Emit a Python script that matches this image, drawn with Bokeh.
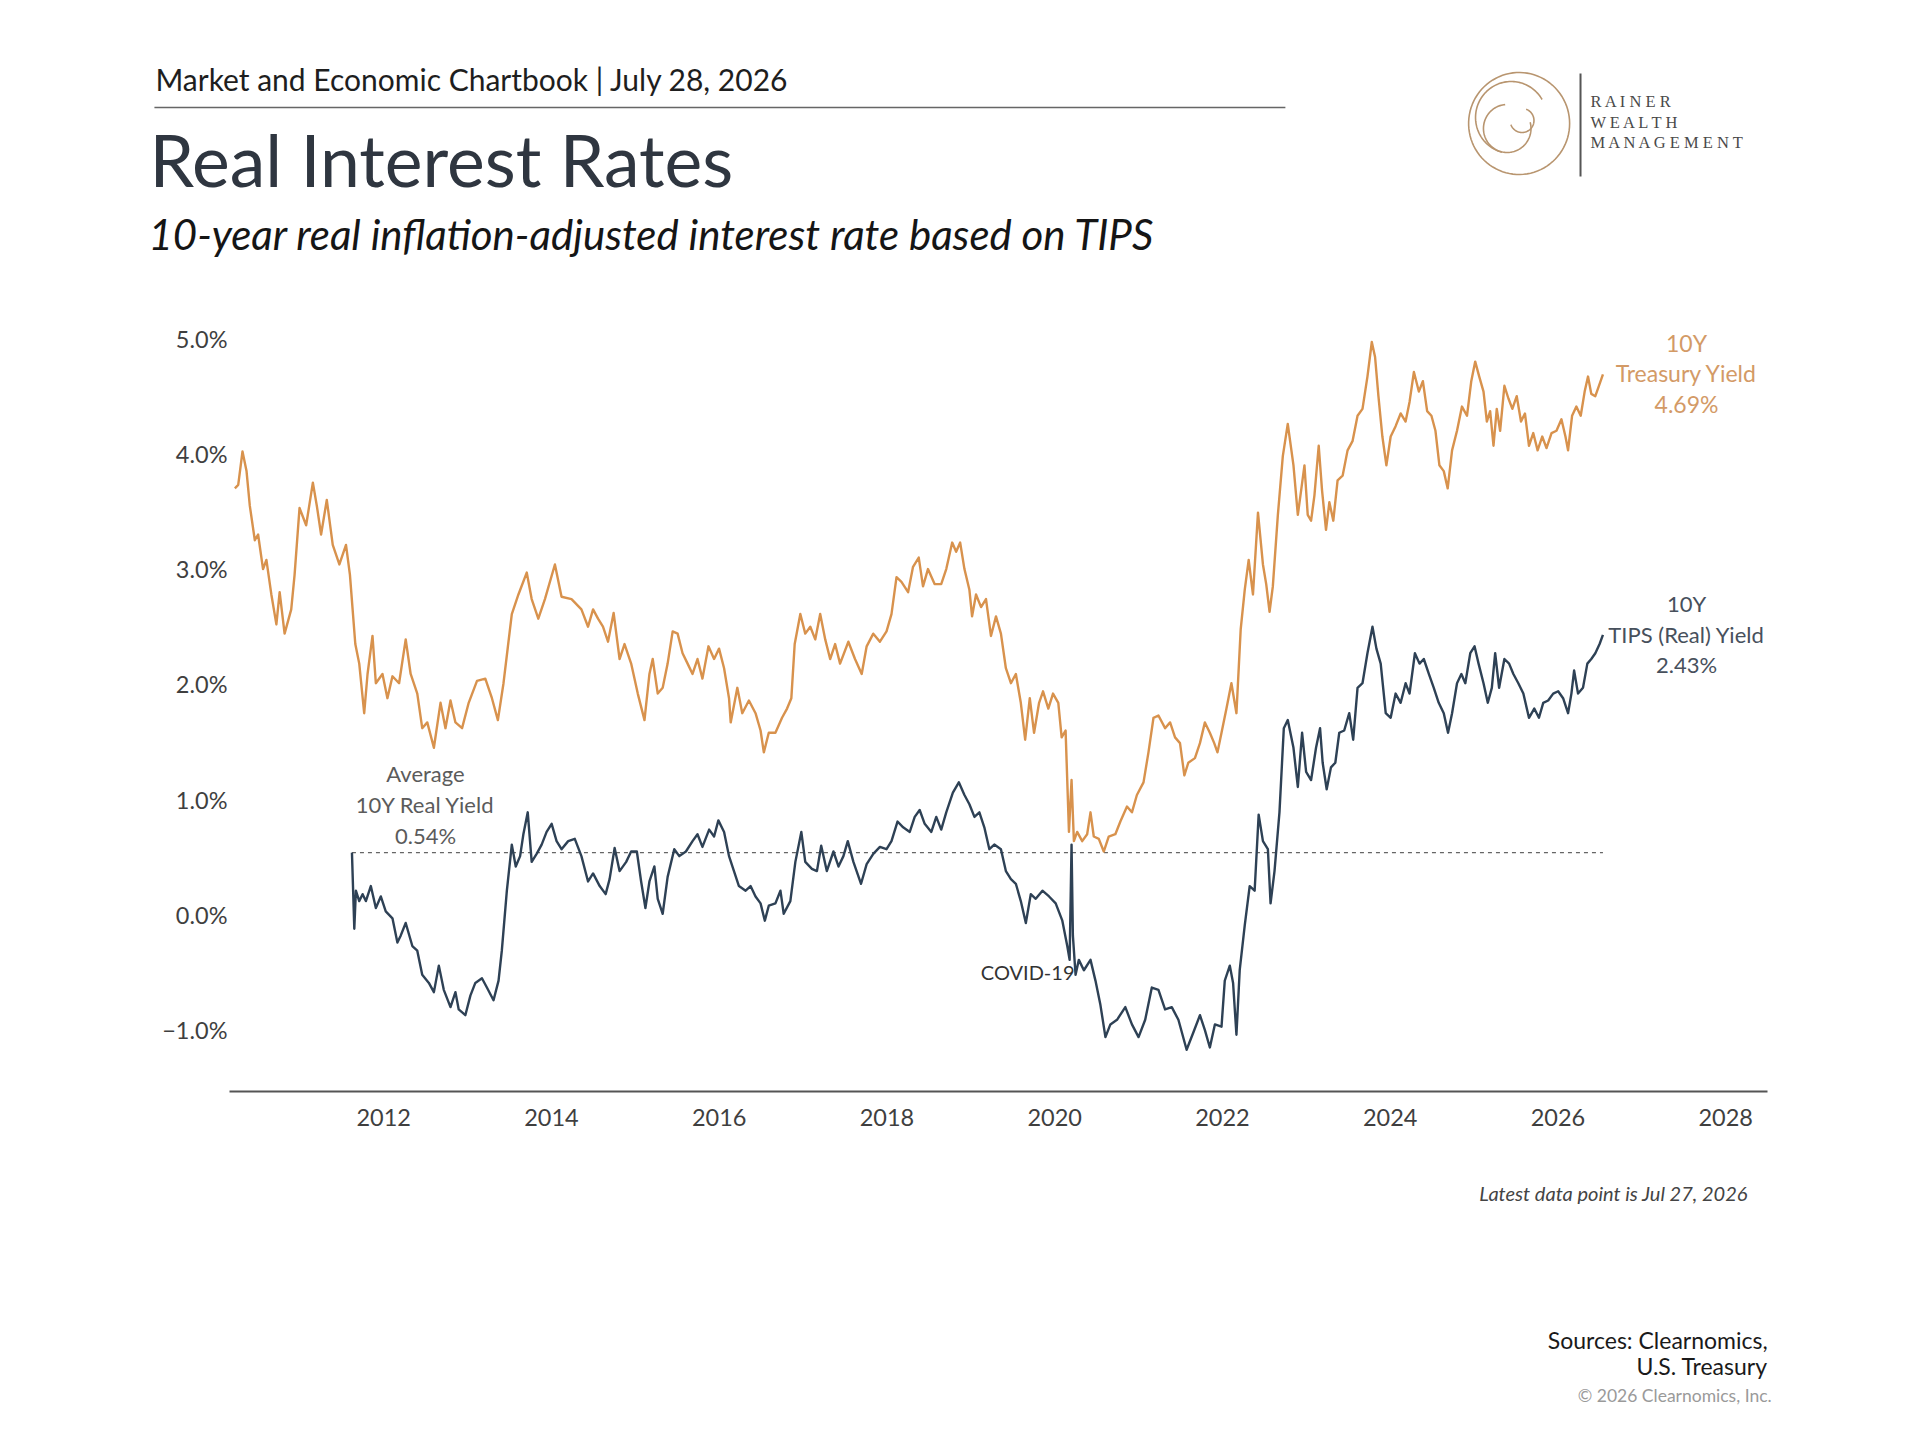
import numpy as np
from bokeh.plotting import figure
from bokeh.models import Range1d, FixedTicker, Label
from bokeh.core.properties import value
from bokeh.embed import file_html
from bokeh.resources import INLINE

# 10Y Treasury yield (%), decimal years
tsy_years = [
    2010.225, 2010.265, 2010.316, 2010.364, 2010.403, 2010.463, 2010.502, 2010.561, 2010.601, 2010.660,
    2010.720, 2010.759, 2010.818, 2010.897, 2010.937, 2010.996, 2011.075, 2011.155, 2011.202, 2011.253,
    2011.321, 2011.392, 2011.471, 2011.550, 2011.597, 2011.661, 2011.708, 2011.767, 2011.807, 2011.866,
    2011.906, 2011.985, 2012.044, 2012.104, 2012.183, 2012.262, 2012.321, 2012.400, 2012.459, 2012.519,
    2012.598, 2012.677, 2012.736, 2012.796, 2012.855, 2012.934, 2013.013, 2013.112, 2013.211, 2013.290,
    2013.361, 2013.428, 2013.527, 2013.606, 2013.705, 2013.764, 2013.843, 2013.922, 2014.041, 2014.120,
    2014.239, 2014.357, 2014.436, 2014.496, 2014.555, 2014.614, 2014.674, 2014.741, 2014.812, 2014.871,
    2014.950, 2015.029, 2015.109, 2015.168, 2015.207, 2015.267, 2015.326, 2015.385, 2015.445, 2015.504,
    2015.563, 2015.623, 2015.682, 2015.741, 2015.800, 2015.872, 2015.939, 2015.998, 2016.058, 2016.117,
    2016.137, 2016.216, 2016.275, 2016.354, 2016.433, 2016.493, 2016.532, 2016.591, 2016.670, 2016.749,
    2016.809, 2016.860, 2016.900, 2016.967, 2017.026, 2017.086, 2017.145, 2017.204, 2017.264, 2017.323,
    2017.382, 2017.441, 2017.540, 2017.619, 2017.699, 2017.758, 2017.837, 2017.916, 2017.995, 2018.054,
    2018.114, 2018.173, 2018.252, 2018.311, 2018.379, 2018.430, 2018.489, 2018.568, 2018.647, 2018.707,
    2018.778, 2018.825, 2018.873, 2018.924, 2018.983, 2019.015, 2019.062, 2019.122, 2019.181, 2019.240,
    2019.300, 2019.359, 2019.418, 2019.478, 2019.537, 2019.596, 2019.648, 2019.703, 2019.754, 2019.814,
    2019.861, 2019.924, 2019.980, 2020.043, 2020.083, 2020.130, 2020.170, 2020.201, 2020.229, 2020.268,
    2020.328, 2020.387, 2020.427, 2020.466, 2020.526, 2020.585, 2020.644, 2020.723, 2020.783, 2020.862,
    2020.921, 2020.980, 2021.059, 2021.118, 2021.178, 2021.237, 2021.316, 2021.376, 2021.435, 2021.494,
    2021.546, 2021.593, 2021.672, 2021.732, 2021.791, 2021.850, 2021.902, 2021.941, 2021.989, 2022.048,
    2022.107, 2022.167, 2022.218, 2022.266, 2022.313, 2022.364, 2022.424, 2022.483, 2022.522, 2022.562,
    2022.601, 2022.661, 2022.720, 2022.779, 2022.847, 2022.899, 2022.938, 2022.978, 2023.017, 2023.057,
    2023.097, 2023.148, 2023.188, 2023.235, 2023.275, 2023.322, 2023.373, 2023.433, 2023.492, 2023.551,
    2023.611, 2023.670, 2023.729, 2023.781, 2023.820, 2023.860, 2023.907, 2023.955, 2024.006, 2024.065,
    2024.125, 2024.184, 2024.231, 2024.283, 2024.342, 2024.390, 2024.441, 2024.492, 2024.540, 2024.587,
    2024.639, 2024.686, 2024.738, 2024.797, 2024.856, 2024.916, 2024.967, 2025.014, 2025.062, 2025.113,
    2025.153, 2025.192, 2025.232, 2025.271, 2025.311, 2025.362, 2025.410, 2025.457, 2025.509, 2025.560,
    2025.607, 2025.655, 2025.706, 2025.758, 2025.813, 2025.864, 2025.924, 2025.983, 2026.042, 2026.090,
    2026.121, 2026.169, 2026.220, 2026.272, 2026.319, 2026.359, 2026.398, 2026.446, 2026.485, 2026.537,
]
tsy_vals = [
    3.70, 3.73, 4.02, 3.85, 3.55, 3.25, 3.30, 3.00, 3.08, 2.78,
    2.52, 2.80, 2.44, 2.65, 2.95, 3.53, 3.38, 3.75, 3.55, 3.30,
    3.60, 3.21, 3.04, 3.21, 2.95, 2.35, 2.18, 1.75, 2.09, 2.42,
    2.01, 2.09, 1.88, 2.07, 2.01, 2.39, 2.09, 1.92, 1.62, 1.67,
    1.45, 1.84, 1.62, 1.86, 1.67, 1.62, 1.84, 2.03, 2.05, 1.88,
    1.69, 2.01, 2.61, 2.78, 2.97, 2.74, 2.57, 2.74, 3.04, 2.76,
    2.74, 2.65, 2.50, 2.65, 2.57, 2.50, 2.37, 2.62, 2.22, 2.35,
    2.18, 1.92, 1.69, 2.09, 2.22, 1.92, 1.97, 2.18, 2.46, 2.44,
    2.27, 2.18, 2.09, 2.22, 2.05, 2.33, 2.22, 2.31, 2.14, 1.88,
    1.67, 1.97, 1.75, 1.86, 1.75, 1.60, 1.41, 1.58, 1.58, 1.71,
    1.79, 1.88, 2.35, 2.61, 2.44, 2.50, 2.39, 2.61, 2.39, 2.22,
    2.35, 2.18, 2.37, 2.22, 2.09, 2.33, 2.44, 2.37, 2.46, 2.61,
    2.93, 2.89, 2.80, 3.02, 3.10, 2.85, 3.00, 2.87, 2.87, 3.00,
    3.23, 3.15, 3.23, 3.00, 2.82, 2.59, 2.78, 2.67, 2.74, 2.42,
    2.59, 2.44, 2.14, 2.01, 2.09, 1.84, 1.52, 1.88, 1.58, 1.84,
    1.94, 1.79, 1.92, 1.84, 1.54, 1.60, 0.72, 1.17, 0.64, 0.72,
    0.64, 0.70, 0.89, 0.68, 0.66, 0.55, 0.68, 0.70, 0.81, 0.94,
    0.89, 1.04, 1.15, 1.41, 1.71, 1.73, 1.62, 1.67, 1.54, 1.49,
    1.21, 1.32, 1.36, 1.49, 1.67, 1.58, 1.49, 1.41, 1.58, 1.79,
    2.01, 1.75, 2.48, 2.82, 3.08, 2.78, 3.49, 3.04, 2.87, 2.63,
    2.85, 3.47, 3.98, 4.26, 3.90, 3.47, 3.68, 3.90, 3.47, 3.42,
    3.64, 4.07, 3.68, 3.34, 3.58, 3.42, 3.77, 3.81, 4.03, 4.11,
    4.33, 4.39, 4.67, 4.97, 4.84, 4.50, 4.15, 3.90, 4.15, 4.24,
    4.35, 4.28, 4.45, 4.71, 4.54, 4.63, 4.37, 4.33, 4.20, 3.90,
    3.85, 3.70, 4.03, 4.20, 4.41, 4.33, 4.63, 4.80, 4.67, 4.54,
    4.28, 4.37, 4.07, 4.39, 4.20, 4.59, 4.48, 4.39, 4.50, 4.28,
    4.35, 4.07, 4.18, 4.03, 4.15, 4.05, 4.18, 4.20, 4.30, 4.15,
    4.03, 4.33, 4.41, 4.33, 4.54, 4.67, 4.52, 4.50, 4.58, 4.69,
]

# 10Y TIPS (real) yield (%)
tips_years = [
    2011.621, 2011.649, 2011.668, 2011.708, 2011.748, 2011.787, 2011.846, 2011.906, 2011.965, 2012.024,
    2012.104, 2012.163, 2012.202, 2012.262, 2012.341, 2012.400, 2012.459, 2012.538, 2012.598, 2012.657,
    2012.716, 2012.796, 2012.855, 2012.894, 2012.973, 2013.033, 2013.092, 2013.171, 2013.230, 2013.309,
    2013.369, 2013.408, 2013.468, 2013.527, 2013.574, 2013.626, 2013.665, 2013.717, 2013.764, 2013.823,
    2013.883, 2013.942, 2014.002, 2014.061, 2014.120, 2014.199, 2014.278, 2014.357, 2014.436, 2014.496,
    2014.575, 2014.646, 2014.693, 2014.753, 2014.812, 2014.891, 2014.950, 2015.018, 2015.069, 2015.120,
    2015.168, 2015.227, 2015.267, 2015.326, 2015.385, 2015.464, 2015.524, 2015.603, 2015.682, 2015.741,
    2015.800, 2015.880, 2015.939, 2015.990, 2016.058, 2016.117, 2016.176, 2016.235, 2016.315, 2016.374,
    2016.433, 2016.493, 2016.544, 2016.591, 2016.670, 2016.730, 2016.769, 2016.848, 2016.908, 2016.979,
    2017.026, 2017.105, 2017.165, 2017.216, 2017.283, 2017.362, 2017.422, 2017.481, 2017.533, 2017.600,
    2017.691, 2017.758, 2017.837, 2017.916, 2017.995, 2018.054, 2018.126, 2018.193, 2018.272, 2018.331,
    2018.390, 2018.450, 2018.529, 2018.588, 2018.647, 2018.707, 2018.786, 2018.857, 2018.924, 2018.983,
    2019.043, 2019.102, 2019.161, 2019.221, 2019.280, 2019.359, 2019.418, 2019.478, 2019.537, 2019.596,
    2019.656, 2019.715, 2019.774, 2019.854, 2019.933, 2020.012, 2020.091, 2020.150, 2020.178, 2020.201,
    2020.217, 2020.249, 2020.288, 2020.348, 2020.427, 2020.486, 2020.545, 2020.605, 2020.664, 2020.743,
    2020.842, 2020.921, 2021.000, 2021.079, 2021.158, 2021.237, 2021.316, 2021.396, 2021.475, 2021.573,
    2021.653, 2021.732, 2021.791, 2021.850, 2021.910, 2021.989, 2022.028, 2022.088, 2022.127, 2022.167,
    2022.206, 2022.266, 2022.325, 2022.384, 2022.432, 2022.483, 2022.542, 2022.574, 2022.621, 2022.680,
    2022.732, 2022.779, 2022.847, 2022.899, 2022.950, 2022.998, 2023.057, 2023.116, 2023.164, 2023.195,
    2023.243, 2023.294, 2023.346, 2023.393, 2023.452, 2023.512, 2023.559, 2023.611, 2023.670, 2023.729,
    2023.789, 2023.836, 2023.887, 2023.947, 2024.006, 2024.065, 2024.125, 2024.184, 2024.231, 2024.295,
    2024.350, 2024.401, 2024.461, 2024.520, 2024.579, 2024.639, 2024.690, 2024.738, 2024.797, 2024.849,
    2024.896, 2024.955, 2025.006, 2025.054, 2025.113, 2025.164, 2025.212, 2025.252, 2025.299, 2025.362,
    2025.418, 2025.469, 2025.528, 2025.588, 2025.655, 2025.718, 2025.774, 2025.825, 2025.884, 2025.944,
    2026.003, 2026.062, 2026.121, 2026.161, 2026.193, 2026.240, 2026.299, 2026.351, 2026.398, 2026.446,
    2026.497, 2026.537,
]
tips_vals = [
    0.54, -0.12, 0.21, 0.12, 0.18, 0.12, 0.25, 0.06, 0.16, 0.03,
    -0.03, -0.24, -0.18, -0.07, -0.27, -0.31, -0.52, -0.59, -0.67, -0.44,
    -0.65, -0.80, -0.67, -0.82, -0.87, -0.70, -0.59, -0.55, -0.63, -0.74,
    -0.57, -0.31, 0.21, 0.61, 0.42, 0.51, 0.70, 0.89, 0.46, 0.53,
    0.61, 0.72, 0.79, 0.64, 0.57, 0.64, 0.66, 0.51, 0.29, 0.36,
    0.25, 0.18, 0.31, 0.58, 0.38, 0.46, 0.55, 0.55, 0.29, 0.06,
    0.29, 0.42, 0.14, 0.01, 0.33, 0.57, 0.51, 0.55, 0.64, 0.70,
    0.59, 0.74, 0.68, 0.82, 0.72, 0.51, 0.38, 0.25, 0.21, 0.25,
    0.16, 0.10, -0.05, 0.08, 0.10, 0.21, 0.01, 0.12, 0.46, 0.72,
    0.46, 0.40, 0.38, 0.60, 0.38, 0.55, 0.42, 0.51, 0.64, 0.46,
    0.27, 0.44, 0.53, 0.59, 0.57, 0.64, 0.81, 0.76, 0.72, 0.85,
    0.91, 0.79, 0.72, 0.85, 0.74, 0.89, 1.06, 1.15, 1.04, 0.96,
    0.85, 0.89, 0.76, 0.57, 0.61, 0.57, 0.38, 0.31, 0.27, 0.12,
    -0.07, 0.18, 0.14, 0.21, 0.16, 0.10, -0.05, -0.27, -0.39, 0.61,
    -0.18, -0.52, -0.39, -0.48, -0.39, -0.57, -0.78, -1.06, -0.95, -0.91,
    -0.80, -0.95, -1.06, -0.91, -0.63, -0.65, -0.82, -0.80, -0.91, -1.17,
    -1.02, -0.87, -1.00, -1.15, -0.95, -0.97, -0.57, -0.44, -0.59, -1.04,
    -0.48, -0.09, 0.25, 0.21, 0.87, 0.64, 0.57, 0.10, 0.38, 0.89,
    1.62, 1.69, 1.45, 1.11, 1.58, 1.24, 1.17, 1.45, 1.62, 1.32,
    1.09, 1.28, 1.32, 1.58, 1.60, 1.75, 1.52, 1.97, 2.01, 2.27,
    2.50, 2.31, 2.18, 1.75, 1.71, 1.92, 1.84, 2.01, 1.92, 2.27,
    2.18, 2.22, 2.09, 1.97, 1.84, 1.75, 1.58, 1.75, 2.01, 2.09,
    2.01, 2.27, 2.33, 2.18, 2.01, 1.84, 1.97, 2.27, 1.97, 2.22,
    2.18, 2.09, 2.01, 1.92, 1.71, 1.79, 1.71, 1.84, 1.86, 1.92,
    1.94, 1.88, 1.75, 1.92, 2.12, 1.92, 1.97, 2.18, 2.22, 2.27,
    2.35, 2.43,
]

avg_real = 0.54
x_ticks = [2012, 2014, 2016, 2018, 2020, 2022, 2024, 2026, 2028]
y_ticks = [-1, 0, 1, 2, 3, 4, 5]

FONT = "Lato"
ORANGE = "#d8924d"
NAVY = "#2e4155"
GOLD = "#b8956f"
W = 1904

# page layout (px from the window's top-left): header / chart / footer strips
HEAD_TOP, CHART_TOP, FOOT_TOP, PAGE_BOT = 8, 320, 1160, 1432
FRAME_L, FRAME_R, FRAME_B = 237, 1775, 1099


def hx(P):
    # the strips come out ~1% wider than asked; place things so they land at page x = P
    return (P + 6.5) / 1.00975


def strip(top, bottom):
    # a plain figure covering a page strip, drawn in page pixel units
    f = figure(width=W, height=bottom - top, x_range=Range1d(8, 8 + W), y_range=Range1d(bottom, top),
               x_axis_location=None, y_axis_location=None, output_backend="svg", toolbar_location=None,
               min_border=0)
    f.outline_line_color = None
    f.grid.visible = False
    return f


def ptext(f, t, X, Y, size, color, align="left", style="normal", font=FONT):
    f.text(x=[hx(X)], y=[Y], text=[t], text_font=value(font), text_font_size=size, text_color=color,
           text_align=align, text_baseline="middle", text_font_style=style)


# header
head = strip(HEAD_TOP, CHART_TOP)
ptext(head, "Market and Economic Chartbook | July 28, 2026", 158, 86, "30px", "#1e1e1e")
head.line([hx(157), hx(1299)], [115, 115], line_color="#666666", line_width=1.5)
ptext(head, "Real Interest Rates", 152, 166.5, "71.5px", "#2f3640")
ptext(head, "10-year real inflation-adjusted interest rate based on TIPS", 151, 241, "42px", "#151515",
      style="italic")

for cx, cy, r, a0, a1 in [(1535, 131, 51, 0, 360), (1527, 125, 36, 30, 255),
                          (1523, 136, 24, 95, 375), (1538, 128, 12, 200, 430)]:
    t = np.radians(np.linspace(a0, a1, 90))
    head.line(hx(cx + r * np.cos(t)), cy - r * np.sin(t), line_color=GOLD, line_width=1.6)
head.line([hx(1597), hx(1597)], [81, 184], line_color="#555555", line_width=2)
for word, Y in [("R A I N E R", 109), ("W E A L T H", 130), ("M A N A G E M E N T", 150)]:
    ptext(head, word, 1607, Y, "16.5px", "#4a4a4a", font="Liberation Serif")

# chart
p = figure(width=W, height=FOOT_TOP - CHART_TOP,
           x_range=Range1d(2010.161, 2028.499), y_range=Range1d(-1.532, 5.226),
           output_backend="svg", toolbar_location=None,
           min_border_left=FRAME_L - 8, min_border_right=W + 8 - FRAME_R,
           min_border_top=0, min_border_bottom=FOOT_TOP - FRAME_B)
p.outline_line_color = None
p.grid.visible = False

p.xaxis.ticker = FixedTicker(ticks=x_ticks)
p.xaxis.major_label_overrides = {t: str(t) for t in x_ticks}
p.xaxis.axis_line_color = "#555555"
p.xaxis.axis_line_width = 2
p.xaxis.major_label_standoff = 17

p.yaxis.ticker = FixedTicker(ticks=y_ticks)
p.yaxis.major_label_overrides = {t: ("\u2212" if t < 0 else "") + "%.1f%%" % abs(t) for t in y_ticks}
p.yaxis.axis_line_color = None
p.yaxis.major_label_standoff = 2

for ax in (p.xaxis, p.yaxis):
    ax.major_tick_line_color = None
    ax.minor_tick_line_color = None
    ax.major_tick_out = 0
    ax.major_tick_in = 0
    ax.major_label_text_font = FONT
    ax.major_label_text_font_size = "23.5px"
    ax.major_label_text_color = "#3f3f3f"

# average real yield, dashed over the span of the TIPS series
p.line([tips_years[0], tips_years[-1]], [avg_real, avg_real],
       line_color="#666666", line_width=1.3, line_dash="4 4")
p.line(tsy_years, tsy_vals, line_color=ORANGE, line_width=2.4, line_join="round")
p.line(tips_years, tips_vals, line_color=NAVY, line_width=2.4, line_join="round")


def label(t, X, Y, size, color, align="center"):
    # positioned in page pixels, converted to offsets from the frame's bottom-left
    p.add_layout(Label(x=X - FRAME_L, y=FRAME_B - Y, x_units="screen", y_units="screen", text=t,
                       text_font=FONT, text_font_size=size, text_color=color,
                       text_align=align, text_baseline="middle"))


for i, t in enumerate(["10Y", "Treasury Yield", "%.2f%%" % tsy_vals[-1]]):
    label(t, 1694, 350 + 30.5 * i, "23px", "#d39a66")
for i, t in enumerate(["10Y", "TIPS (Real) Yield", "%.2f%%" % tips_vals[-1]]):
    label(t, 1694, 611 + 30.5 * i, "22px", "#47505c")
for i, t in enumerate(["Average", "10Y Real Yield", "%.2f%%" % avg_real]):
    label(t, 433, 781 + 31 * i, "22px", "#5b5b5b")
label("COVID-19", 1082, 979, "20px", "#333333", align="right")

# footer
foot = strip(FOOT_TOP, PAGE_BOT)
ptext(foot, "Latest data point is Jul 27, 2026", 1766, 1200, "20px", "#444444", align="right", style="italic")
ptext(foot, "Sources: Clearnomics,", 1786, 1347, "23px", "#1a1a1a", align="right")
ptext(foot, "U.S. Treasury", 1786, 1373, "23px", "#1a1a1a", align="right")
ptext(foot, "\u00a9 2026 Clearnomics, Inc.", 1790, 1403, "17.5px", "#9a9a9a", align="right")

# three separate roots stacked on the page, so their frames are laid out independently
open("out.html", "w").write(file_html([head, p, foot], INLINE))
